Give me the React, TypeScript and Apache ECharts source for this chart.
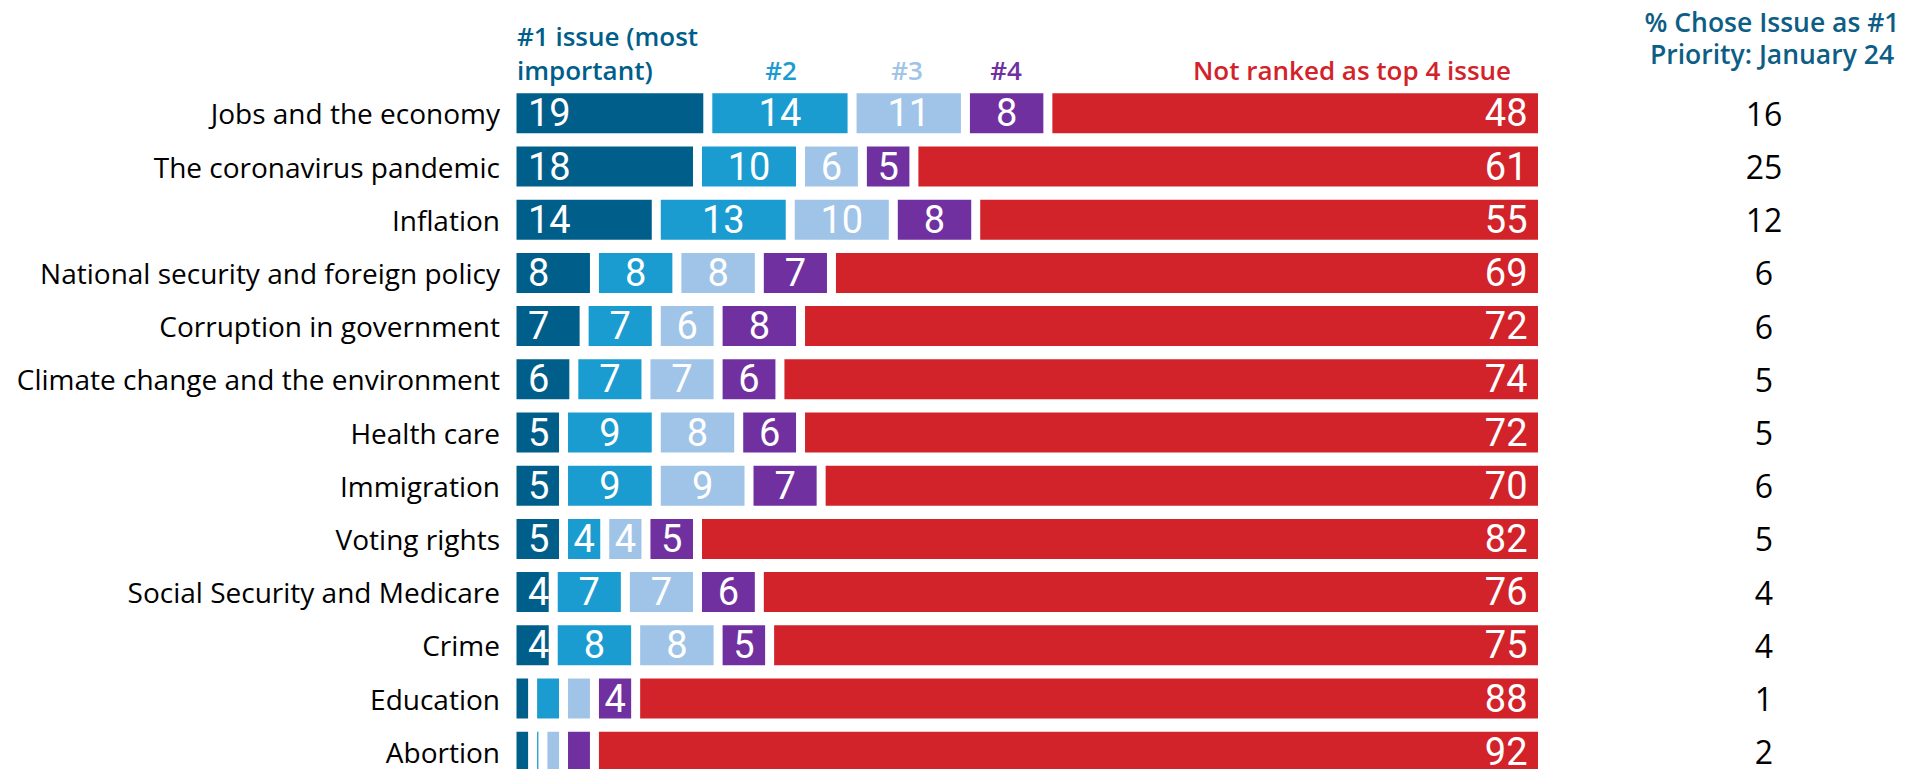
import React, { useEffect, useRef } from "react";
import * as echarts from "echarts";

const categories = [
  "Jobs and the economy",
  "The coronavirus pandemic",
  "Inflation",
  "National security and foreign policy",
  "Corruption in government",
  "Climate change and the environment",
  "Health care",
  "Immigration",
  "Voting rights",
  "Social Security and Medicare",
  "Crime",
  "Education",
  "Abortion",
];

const rank1 = [19, 18, 14, 8, 7, 6, 5, 5, 5, 4, 4, 2, 2];
const rank2 = [14, 10, 13, 8, 7, 7, 9, 9, 4, 7, 8, 3, 1];
const rank3 = [11, 6, 10, 8, 6, 7, 8, 9, 4, 7, 8, 3, 2];
const rank4 = [8, 5, 8, 7, 8, 6, 6, 7, 5, 6, 5, 4, 3];
const notRanked = [48, 61, 55, 69, 72, 74, 72, 70, 82, 76, 75, 88, 92];
const january24 = [16, 25, 12, 6, 6, 5, 5, 6, 5, 4, 4, 1, 2];

const seriesNames = ["#1 issue (most important)", "#2", "#3", "#4", "Not ranked as top 4 issue"];
const colors = ["#005E8A", "#1B9CD0", "#A0C4E8", "#7030A0", "#D2232A"];

export default function App() {
  const ref = useRef<HTMLDivElement>(null);
  useEffect(() => {
    if (!ref.current) return;
    const chart = echarts.init(ref.current, null, { renderer: "svg" });
    const dataSets = [rank1, rank2, rank3, rank4, notRanked];
    const positions = ["insideLeft", "inside", "inside", "inside", "insideRight"];
    const distances = [16, 5, 5, 5, 15];
    const labelFont = "Roboto, 'Open Sans', sans-serif";
    const textFont = "'Open Sans', 'Noto Sans', sans-serif";
    const series = dataSets.map((d, i) => ({
      name: seriesNames[i],
      type: "bar",
      stack: "total",
      barWidth: 49,
      data: d,
      itemStyle: { color: colors[i], borderColor: "#ffffff", borderWidth: 4.5 },
      label: {
        show: true,
        position: positions[i],
        distance: distances[i],
        color: "#ffffff",
        fontSize: 38,
        fontFamily: labelFont,
        formatter: (p: any) => (p.value >= 4 ? String(p.value) : ""),
      },
      emphasis: { disabled: true },
    }));
    const headerStyle = (color: string) => ({
      fill: color,
      fontSize: 26,
      fontWeight: 600,
      fontFamily: textFont,
    });
    chart.setOption({
      animation: false,
      grid: { left: 512, right: 365.5, top: 86.7, height: 691.6, outerBoundsMode: "none", containLabel: false },
      xAxis: { type: "value", min: 0, max: 100, show: false },
      yAxis: [
        {
          type: "category",
          data: categories,
          inverse: true,
          axisLine: { show: false },
          axisTick: { show: false },
          splitLine: { show: false },
          axisLabel: { fontSize: 28, color: "#000000", fontFamily: textFont, margin: 12 },
        },
        {
          type: "category",
          data: categories,
          inverse: true,
          position: "right",
          axisLine: { show: false },
          axisTick: { show: false },
          splitLine: { show: false },
          axisLabel: {
            fontSize: 32,
            color: "#000000",
            fontFamily: textFont,
            margin: 221.5,
            align: "center",
            formatter: (_v: string, idx: number) => String(january24[idx]),
          },
        },
      ],
      graphic: [
        { type: "text", x: 517, y: 53, style: { text: "#1 issue (most\nimportant)", align: "left", verticalAlign: "middle", lineHeight: 34, ...headerStyle(colors[0]) } },
        { type: "text", x: 781, y: 70, style: { text: "#2", align: "center", verticalAlign: "middle", ...headerStyle(colors[1]) } },
        { type: "text", x: 907, y: 70, style: { text: "#3", align: "center", verticalAlign: "middle", ...headerStyle(colors[2]) } },
        { type: "text", x: 1006, y: 70, style: { text: "#4", align: "center", verticalAlign: "middle", ...headerStyle(colors[3]) } },
        { type: "text", x: 1352, y: 70, style: { text: "Not ranked as top 4 issue", align: "center", verticalAlign: "middle", ...headerStyle(colors[4]) } },
        { type: "text", x: 1772, y: 38, style: { text: "% Chose Issue as #1\nPriority: January 24", align: "center", verticalAlign: "middle", lineHeight: 32.5, fill: "#0D5E86", fontSize: 26.5, fontWeight: 600, fontFamily: textFont } },
      ],
      series,
    });
    return () => chart.dispose();
  }, []);
  return (
    <div
      ref={ref}
      style={{ position: "fixed", left: 0, top: 0, width: 1908, height: 769, background: "#ffffff" }}
    />
  );
}
